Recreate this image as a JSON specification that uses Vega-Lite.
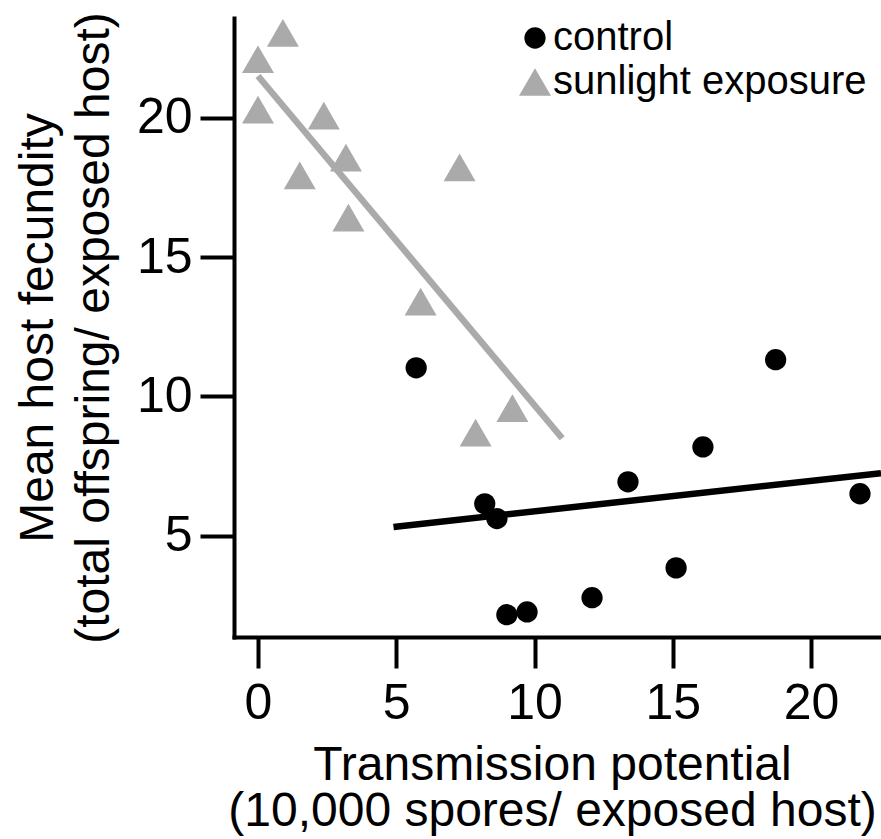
{
  "$schema": "https://vega.github.io/schema/vega-lite/v6.json",
  "width": 647,
  "height": 619,
  "autosize": {"type": "none"},
  "padding": {"left": 234, "top": 18, "right": 0, "bottom": 202},
  "config": {
    "view": {"stroke": null},
    "font": "Liberation Sans",
    "axis": {
      "grid": false,
      "domainColor": "black",
      "domainWidth": 4,
      "domainCap": "square",
      "tickColor": "black",
      "tickWidth": 4,
      "labelFont": "Liberation Sans",
      "labelFontSize": 50,
      "labelColor": "black",
      "labelOverlap": false,
      "labelFlush": false,
      "labelBound": false,
      "titleFont": "Liberation Sans",
      "titleFontSize": 48,
      "titleFontWeight": "normal",
      "titleColor": "black"
    },
    "legend": {
      "labelFont": "Liberation Sans",
      "labelFontSize": 40,
      "labelColor": "black",
      "labelLimit": 0
    }
  },
  "datasets": {
    "points": [
      {"group": "control", "x": 5.72, "y": 11.03},
      {"group": "control", "x": 8.2, "y": 6.15},
      {"group": "control", "x": 8.64, "y": 5.62},
      {"group": "control", "x": 9.0, "y": 2.17},
      {"group": "control", "x": 9.73, "y": 2.27},
      {"group": "control", "x": 12.08, "y": 2.78},
      {"group": "control", "x": 13.38, "y": 6.94},
      {"group": "control", "x": 15.12, "y": 3.85},
      {"group": "control", "x": 16.09, "y": 8.19},
      {"group": "control", "x": 18.72, "y": 11.32},
      {"group": "control", "x": 21.77, "y": 6.51},
      {"group": "sunlight exposure", "x": 0.9, "y": 23.05},
      {"group": "sunlight exposure", "x": 0.0, "y": 22.1},
      {"group": "sunlight exposure", "x": 0.0, "y": 20.29},
      {"group": "sunlight exposure", "x": 2.38, "y": 20.08},
      {"group": "sunlight exposure", "x": 3.18, "y": 18.57},
      {"group": "sunlight exposure", "x": 1.51, "y": 17.93},
      {"group": "sunlight exposure", "x": 7.29, "y": 18.22},
      {"group": "sunlight exposure", "x": 3.27, "y": 16.42},
      {"group": "sunlight exposure", "x": 5.88, "y": 13.4},
      {"group": "sunlight exposure", "x": 9.2, "y": 9.58},
      {"group": "sunlight exposure", "x": 7.87, "y": 8.7}
    ],
    "fits": [
      {"group": "control", "x": 4.9, "y": 5.32},
      {"group": "control", "x": 22.53, "y": 7.25},
      {"group": "sunlight exposure", "x": 0.0, "y": 21.5},
      {"group": "sunlight exposure", "x": 11.0, "y": 8.5}
    ]
  },
  "layer": [
    {
      "data": {"name": "fits"},
      "transform": [{"filter": "datum.group === 'control'"}],
      "mark": {"type": "line", "strokeWidth": 6.5, "strokeCap": "butt", "color": "#000000"},
      "encoding": {
        "x": {
          "field": "x", "type": "quantitative",
          "scale": {"domain": [-0.868, 22.53], "nice": false, "zero": false},
          "axis": {
            "values": [0, 5, 10, 15, 20],
            "tickSize": 31,
            "labelPadding": 10,
            "title": ["Transmission potential", "(10,000 spores/ exposed host)"],
            "titleLineHeight": 46,
            "titleX": 318,
            "titleY": 142,
            "titleAlign": "center",
            "titleBaseline": "alphabetic"
          }
        },
        "y": {
          "field": "y", "type": "quantitative",
          "scale": {"domain": [1.37, 23.58], "nice": false, "zero": false},
          "axis": {
            "values": [5, 10, 15, 20],
            "tickSize": 34,
            "labelPadding": 8,
            "title": ["Mean host fecundity", "(total offspring/ exposed host)"],
            "titleLineHeight": 56,
            "titleX": -182,
            "titleY": 309.5,
            "titleAngle": -90,
            "titleAlign": "center",
            "titleBaseline": "alphabetic"
          }
        }
      }
    },
    {
      "data": {"name": "fits"},
      "transform": [{"filter": "datum.group === 'sunlight exposure'"}],
      "mark": {"type": "line", "strokeWidth": 6.5, "strokeCap": "butt", "color": "#aaaaaa"},
      "encoding": {
        "x": {"field": "x", "type": "quantitative"},
        "y": {"field": "y", "type": "quantitative"}
      }
    },
    {
      "data": {"name": "points"},
      "mark": {"type": "point", "filled": true, "opacity": 1},
      "encoding": {
        "x": {"field": "x", "type": "quantitative"},
        "y": {"field": "y", "type": "quantitative"},
        "color": {
          "field": "group", "type": "nominal",
          "scale": {"domain": ["control", "sunlight exposure"], "range": ["#000000", "#aaaaaa"]},
          "legend": {
            "title": null,
            "orient": "none",
            "legendX": 281,
            "legendY": 0,
            "padding": 0,
            "labelOffset": -2,
            "rowPadding": 4,
            "encode": {
              "symbols": {
                "update": {
                  "size": {"signal": "datum.value === 'control' ? 340 : 790"}
                }
              }
            }
          }
        },
        "shape": {
          "field": "group", "type": "nominal",
          "scale": {"domain": ["control", "sunlight exposure"], "range": ["circle", "triangle-up"]}
        },
        "size": {
          "field": "group", "type": "nominal",
          "scale": {"domain": ["control", "sunlight exposure"], "range": [452, 1024]}
        }
      }
    },
    {
      "mark": {"type": "rule", "strokeWidth": 4, "color": "black"},
      "encoding": {"y": {"datum": 23.58}}
    }
  ]
}
